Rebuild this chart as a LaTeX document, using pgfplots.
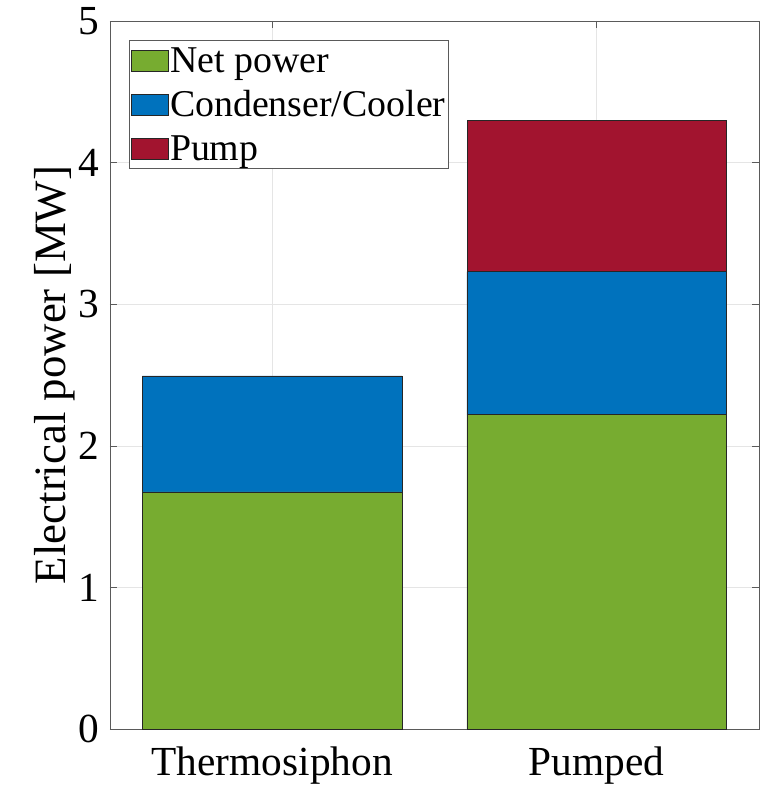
\documentclass[border=0pt]{standalone}
\usepackage{fontspec}
\setmainfont{Liberation Serif}
\usepackage{pgfplots}
\pgfplotsset{compat=1.18}

\definecolor{netgreen}{RGB}{119,172,48}
\definecolor{condblue}{RGB}{0,114,189}
\definecolor{pumpred}{RGB}{162,20,47}
\definecolor{axisgray}{RGB}{90,90,90}

\begin{document}
\begin{tikzpicture}
\begin{axis}[
    at={(0,0)}, anchor=south west,
    scale only axis,
    width=649bp, height=708bp,
    ybar stacked,
    bar width=0.8,
    xmin=0.5, xmax=2.5,
    ymin=0, ymax=5,
    xtick={1,2},
    xticklabels={Thermosiphon,Pumped},
    ytick={0,1,2,3,4,5},
    tick align=inside,
    major tick length=7bp,
    tick style={axisgray, line width=0.6bp},
    axis line style={axisgray, line width=0.8bp},
    grid=major,
    major grid style={gray!20, line width=0.6bp},
    /pgf/number format/assume math mode=true,
    tick label style={font=\fontsize{41.5}{50}\selectfont},
    xticklabel style={yshift=-14bp},
    yticklabel style={xshift=-7bp},
    ylabel={Electrical power [MW]},
    ylabel style={font=\fontsize{45}{54}\selectfont, at={(axis description cs:-0.0855,0.5)}, anchor=center, inner sep=0pt},
    legend cell align=left,
    legend style={
        at={(0.0293,0.9732)}, anchor=north west,
        font=\fontsize{38}{45}\selectfont,
        draw=axisgray, line width=0.8bp,
        inner xsep=2bp, inner ysep=6bp,
        row sep=15bp,
        nodes={inner sep=1bp},
        /tikz/every even column/.append style={column sep=0pt},
    },
    legend image code/.code={
        \draw[#1, line width=0.6bp] (0bp,-10.5bp) rectangle (37bp,10.5bp);
    },
]
\addplot[fill=netgreen, draw=black!85, line width=0.6bp] coordinates {(1,1.675) (2,2.219)};
\addplot[fill=condblue, draw=black!85, line width=0.6bp] coordinates {(1,0.819) (2,1.011)};
\addplot[fill=pumpred, draw=black!85, line width=0.6bp] coordinates {(1,0) (2,1.066)};
\legend{Net power, Condenser/Cooler, Pump}
\end{axis}
\pgfresetboundingbox
\path[use as bounding box] (-110bp,-56bp) rectangle (655bp,729bp);
\end{tikzpicture}
\end{document}
